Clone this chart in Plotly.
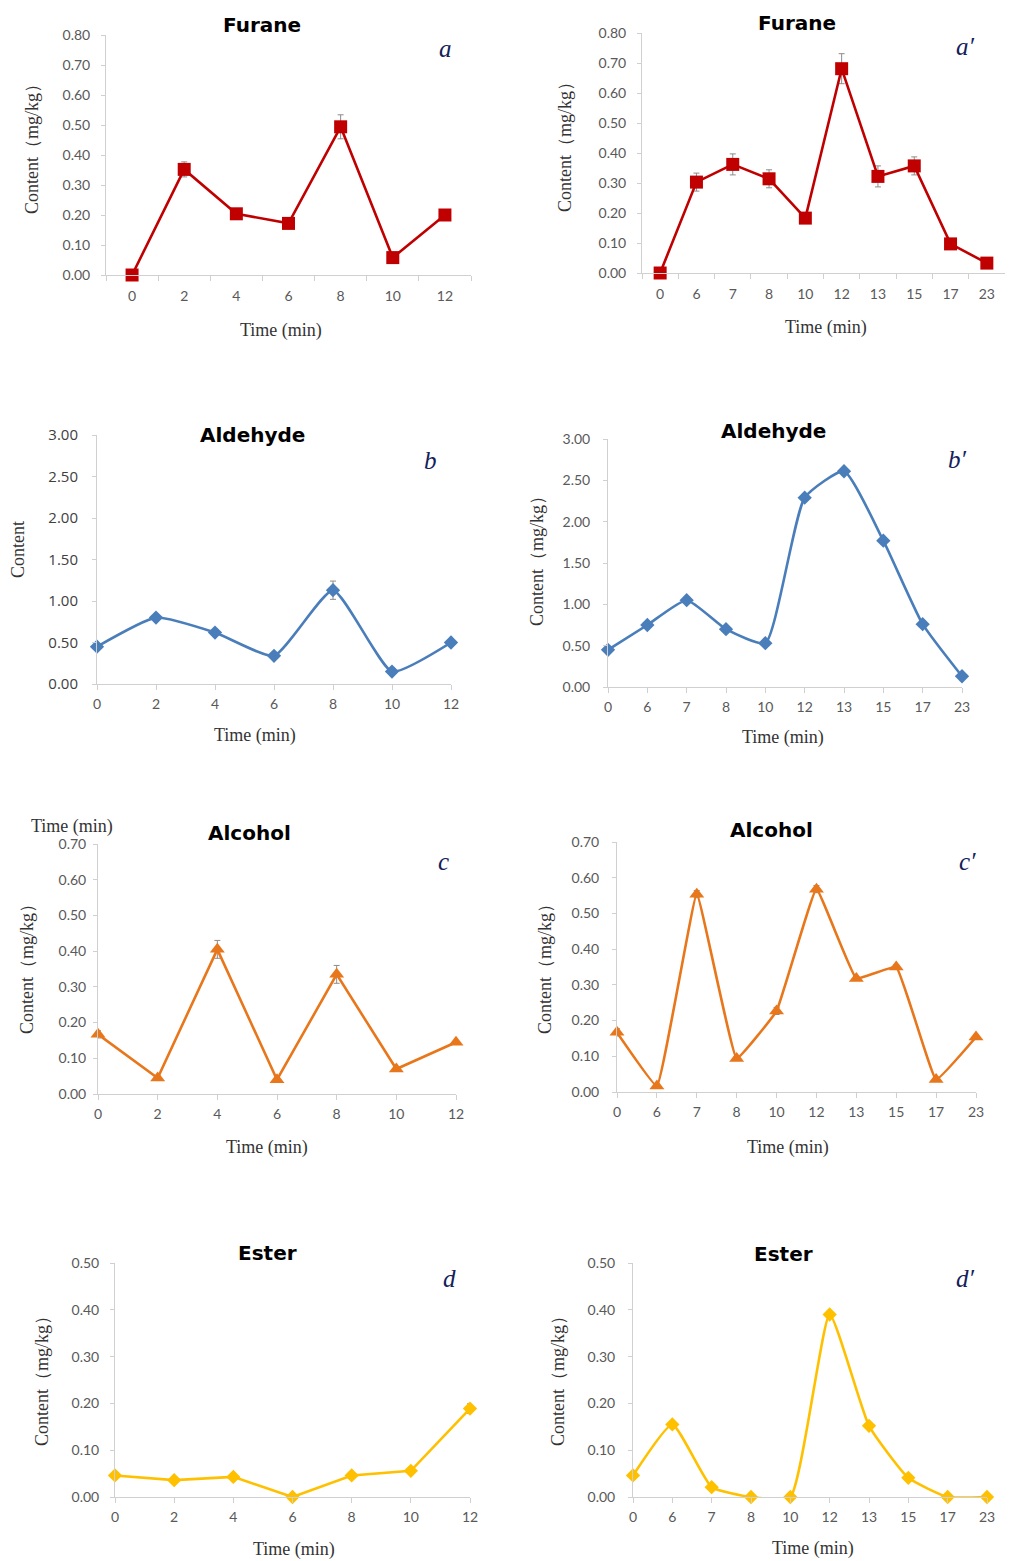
import plotly.graph_objects as go

# page body has an 8px margin; the figure is sized so page == window
OFF = 8
W, H = 1013 - OFF, 1561 - OFF

times_left = ["0", "2", "4", "6", "8", "10", "12"]
times_right = ["0", "6", "7", "8", "10", "12", "13", "15", "17", "23"]

furane_a = [0.00, 0.352, 0.204, 0.172, 0.494, 0.058, 0.200]
furane_a_err = [0.0, 0.025, 0.01, 0.01, 0.04, 0.01, 0.01]
furane_a2 = [0.00, 0.303, 0.362, 0.314, 0.183, 0.681, 0.322, 0.357, 0.097, 0.033]
furane_a2_err = [0.0, 0.03, 0.035, 0.03, 0.01, 0.05, 0.035, 0.03, 0.01, 0.005]

ald_b = [0.45, 0.80, 0.62, 0.34, 1.13, 0.15, 0.50]
ald_b_err = [0.02, 0.04, 0.02, 0.02, 0.11, 0.02, 0.02]
ald_b2 = [0.45, 0.75, 1.05, 0.70, 0.53, 2.29, 2.61, 1.77, 0.76, 0.13]
ald_b2_err = [0.02, 0.03, 0.02, 0.02, 0.02, 0.03, 0.03, 0.03, 0.02, 0.02]

alc_c = [0.167, 0.045, 0.405, 0.040, 0.335, 0.070, 0.145]
alc_c_err = [0.01, 0.005, 0.025, 0.005, 0.025, 0.005, 0.005]
alc_c2 = [0.167, 0.017, 0.554, 0.094, 0.227, 0.568, 0.318, 0.350, 0.035, 0.154]
alc_c2_err = [0.01, 0.005, 0.01, 0.005, 0.01, 0.01, 0.005, 0.005, 0.005, 0.005]

est_d = [0.046, 0.036, 0.043, 0.000, 0.046, 0.056, 0.189]
est_d_err = [0.003, 0.003, 0.003, 0.0, 0.003, 0.003, 0.01]
est_d2 = [0.046, 0.155, 0.021, 0.000, 0.000, 0.390, 0.152, 0.041, 0.000, 0.000]
est_d2_err = [0.005, 0.005, 0.003, 0.0, 0.0, 0.005, 0.005, 0.003, 0.0, 0.0]

RED, BLUE, ORANGE, GOLD = "#c00000", "#4a7ebb", "#e8761b", "#ffc000"

panels = [
    dict(x=times_left, y=furane_a, e=furane_a_err, c=RED, s="square", ms=13, shape="linear", sm=0,
         dx=(106, 471), dy=(35, 275), yr=0.8, dt=0.1, between=True, ysd=8, xsd=8,
         title="Furane", tpos=(262, 25), lab="a", lpos=(445, 48),
         xt=(281, 330), yt="Content（mg/kg）", ytp=(32, 145)),
    dict(x=times_right, y=furane_a2, e=furane_a2_err, c=RED, s="square", ms=13, shape="linear", sm=0,
         dx=(642, 1005), dy=(33, 273), yr=0.8, dt=0.1, between=True, ysd=8, xsd=8,
         title="Furane", tpos=(797, 23), lab="a\u2032", lpos=(965, 47),
         xt=(826, 327), yt="Content（mg/kg）", ytp=(565, 143)),
    dict(x=times_left, y=ald_b, e=ald_b_err, c=BLUE, s="diamond", ms=11, shape="spline", sm=0.5,
         dx=(97, 451), dy=(435, 684), yr=3.0, dt=0.5, between=False, ysd=11, xsd=2,
         title="Aldehyde", tpos=(252, 435), lab="b", lpos=(430, 461),
         xt=(255, 735), yt="Content", ytp=(18, 550)),
    dict(x=times_right, y=ald_b2, e=ald_b2_err, c=BLUE, s="diamond", ms=11, shape="spline", sm=0.5,
         dx=(608, 962), dy=(439, 687), yr=3.0, dt=0.5, between=False, ysd=10, xsd=2,
         title="Aldehyde", tpos=(773, 431), lab="b\u2032", lpos=(957, 460),
         xt=(783, 737), yt="Content（mg/kg）", ytp=(537, 557)),
    dict(x=times_left, y=alc_c, e=alc_c_err, c=ORANGE, s="triangle-up", ms=13, shape="linear", sm=0,
         dx=(98, 456), dy=(844, 1094), yr=0.7, dt=0.1, between=False, ysd=4, xsd=2,
         title="Alcohol", tpos=(249, 833), lab="c", lpos=(443, 861),
         xt=(267, 1147), yt="Content（mg/kg）", ytp=(27, 965)),
    dict(x=times_right, y=alc_c2, e=alc_c2_err, c=ORANGE, s="triangle-up", ms=13, shape="spline", sm=0.25,
         dx=(617, 976), dy=(842, 1092), yr=0.7, dt=0.1, between=False, ysd=10, xsd=2,
         title="Alcohol", tpos=(771, 830), lab="c\u2032", lpos=(967, 861),
         xt=(788, 1147), yt="Content（mg/kg）", ytp=(545, 965)),
    dict(x=times_left, y=est_d, e=est_d_err, c=GOLD, s="diamond", ms=11, shape="linear", sm=0,
         dx=(115, 470), dy=(1263, 1497), yr=0.5, dt=0.1, between=False, ysd=8, xsd=2,
         title="Ester", tpos=(267, 1253), lab="d", lpos=(449, 1278),
         xt=(294, 1549), yt="Content（mg/kg）", ytp=(42, 1377)),
    dict(x=times_right, y=est_d2, e=est_d2_err, c=GOLD, s="diamond", ms=11, shape="spline", sm=0.45,
         dx=(633, 987), dy=(1263, 1497), yr=0.5, dt=0.1, between=False, ysd=10, xsd=2,
         title="Ester", tpos=(783, 1254), lab="d\u2032", lpos=(965, 1278),
         xt=(813, 1548), yt="Content（mg/kg）", ytp=(558, 1377)),
]


def px(xv):
    return (xv - OFF) / W


def py(yv):
    return 1 - (yv - OFF) / H


fig = go.Figure()
annotations = []
TICKFONT = dict(family="Lato, Open Sans, sans-serif", size=14, color="#595959")
SERIF = "Liberation Serif, Times New Roman, serif"

for i, p in enumerate(panels, start=1):
    xa = "x" if i == 1 else f"x{i}"
    ya = "y" if i == 1 else f"y{i}"
    line = dict(color=p["c"], width=2.6, shape=p["shape"])
    if p["shape"] == "spline":
        line["smoothing"] = p["sm"]
    fig.add_trace(go.Scatter(
        x=p["x"], y=p["y"], xaxis=xa, yaxis=ya, mode="lines+markers",
        line=line,
        marker=dict(symbol=p["s"], size=p["ms"], color=p["c"]),
        error_y=dict(type="data", array=p["e"], visible=True, color="#8c8c8c", thickness=1, width=3),
        cliponaxis=False, showlegend=False, hoverinfo="x+y",
    ))
    n = len(p["x"])
    xr = [-0.5, n - 0.5] if p["between"] else [0, n - 1]
    xkey = "xaxis" if i == 1 else f"xaxis{i}"
    ykey = "yaxis" if i == 1 else f"yaxis{i}"
    fig.layout[xkey] = dict(
        domain=[px(p["dx"][0]), min(1.0, px(p["dx"][1]))], anchor=ya, type="category",
        categoryorder="array", categoryarray=p["x"], range=xr, automargin=False,
        showline=True, linecolor="#d0d0d0", linewidth=1, showgrid=False, zeroline=False,
        ticks="outside", ticklen=5, tickcolor="#d0d0d0", ticklabelstandoff=p["xsd"],
        tickson="boundaries" if p["between"] else "labels",
        tickfont=TICKFONT, fixedrange=True,
    )
    fig.layout[ykey] = dict(
        domain=[py(p["dy"][1]), py(p["dy"][0])], anchor=xa, automargin=False,
        range=[0, p["yr"]], dtick=p["dt"], tick0=0, tickformat=".2f",
        showline=True, linecolor="#d0d0d0", linewidth=1, showgrid=False, zeroline=False,
        ticks="outside", ticklen=4, tickcolor="#d0d0d0", ticklabelstandoff=p["ysd"],
        tickfont=TICKFONT if i != 3 else dict(family="Open Sans, sans-serif", size=15, color="#404040"),
        fixedrange=True,
    )
    annotations.append(dict(text=f"<b>{p['title']}</b>", x=px(p["tpos"][0]), y=py(p["tpos"][1]),
                            xref="paper", yref="paper", showarrow=False, xanchor="center", yanchor="middle",
                            font=dict(family="DejaVu Sans, Verdana, sans-serif", size=20, color="#000000")))
    annotations.append(dict(text=f"<i>{p['lab']}</i>", x=px(p["lpos"][0]), y=py(p["lpos"][1]),
                            xref="paper", yref="paper", showarrow=False, xanchor="center", yanchor="middle",
                            font=dict(family=SERIF, size=25, color="#14205a")))
    annotations.append(dict(text="Time (min)", x=px(p["xt"][0]), y=py(p["xt"][1]),
                            xref="paper", yref="paper", showarrow=False, xanchor="center", yanchor="middle",
                            font=dict(family=SERIF, size=18, color="#333333")))
    annotations.append(dict(text=p["yt"], x=px(p["ytp"][0]), y=py(p["ytp"][1]), textangle=-90,
                            xref="paper", yref="paper", showarrow=False, xanchor="center", yanchor="middle",
                            font=dict(family=SERIF, size=18, color="#333333")))

annotations.append(dict(text="Time (min)", x=px(72), y=py(826), xref="paper", yref="paper",
                        showarrow=False, xanchor="center", yanchor="middle",
                        font=dict(family=SERIF, size=18, color="#333333")))

fig.update_layout(
    width=W, height=H, margin=dict(l=0, r=0, t=0, b=0, pad=0, autoexpand=False),
    paper_bgcolor="white", plot_bgcolor="white",
    annotations=annotations, showlegend=False,
)

fig.write_html("out.html")
